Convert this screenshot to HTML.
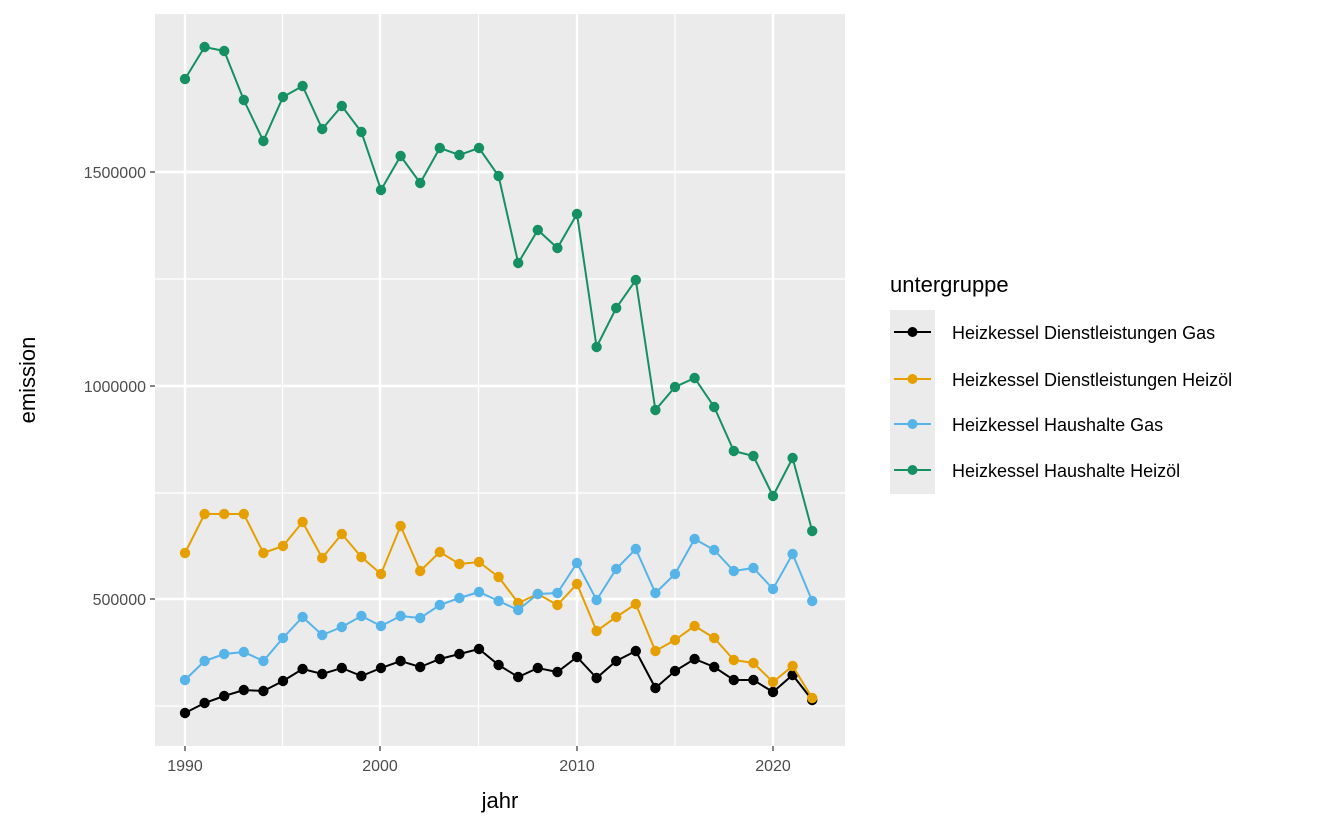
<!DOCTYPE html>
<html><head><style>body{margin:0;background:#fff}</style></head><body>
<svg width="1344" height="830" xmlns="http://www.w3.org/2000/svg" font-family="Liberation Sans, Arial, sans-serif">
<rect x="155" y="14" width="690" height="732" fill="#ebebeb"/>
<g stroke="#fff" stroke-width="1.2">
<line x1="155" x2="845" y1="279" y2="279"/><line x1="155" x2="845" y1="493" y2="493"/><line x1="155" x2="845" y1="706" y2="706"/>
<line x1="282.5" x2="282.5" y1="14" y2="746"/><line x1="478.5" x2="478.5" y1="14" y2="746"/><line x1="675" x2="675" y1="14" y2="746"/>
</g>
<g stroke="#fff" stroke-width="2.4">
<line x1="155" x2="845" y1="172" y2="172"/><line x1="155" x2="845" y1="386" y2="386"/><line x1="155" x2="845" y1="599" y2="599"/>
<line x1="185" x2="185" y1="14" y2="746"/><line x1="380" x2="380" y1="14" y2="746"/><line x1="577" x2="577" y1="14" y2="746"/><line x1="773" x2="773" y1="14" y2="746"/>
</g>
<g stroke="#333" stroke-width="1.2">
<line x1="150" x2="155" y1="172" y2="172"/><line x1="150" x2="155" y1="386" y2="386"/><line x1="150" x2="155" y1="599" y2="599"/>
<line x1="185" x2="185" y1="746" y2="751"/><line x1="380" x2="380" y1="746" y2="751"/><line x1="577" x2="577" y1="746" y2="751"/><line x1="773" x2="773" y1="746" y2="751"/>
</g>
<g fill="#4d4d4d" font-size="16" text-anchor="end">
<text x="146" y="178">1500000</text><text x="146" y="392">1000000</text><text x="146" y="605">500000</text>
</g>
<g fill="#4d4d4d" font-size="16" text-anchor="middle">
<text x="185" y="771">1990</text><text x="380" y="771">2000</text><text x="577" y="771">2010</text><text x="773" y="771">2020</text>
</g>
<text x="500" y="808" font-size="22" text-anchor="middle">jahr</text>
<text transform="translate(35,380) rotate(-90)" font-size="22" text-anchor="middle">emission</text>
<g id="series"></g>
<text x="890" y="292" font-size="22">untergruppe</text>
<rect x="890" y="310" width="45" height="184" fill="#ebebeb"/>
<g font-size="18">
<line x1="894" x2="931" y1="332" y2="332" stroke="#000" stroke-width="2"/><circle cx="912.5" cy="332" r="5" fill="#000"/><text x="952" y="339">Heizkessel Dienstleistungen Gas</text>
<line x1="894" x2="931" y1="379" y2="379" stroke="#E69F00" stroke-width="2"/><circle cx="912.5" cy="379" r="5" fill="#E69F00"/><text x="952" y="386">Heizkessel Dienstleistungen Heizöl</text>
<line x1="894" x2="931" y1="424" y2="424" stroke="#56B4E9" stroke-width="2"/><circle cx="912.5" cy="424" r="5" fill="#56B4E9"/><text x="952" y="431">Heizkessel Haushalte Gas</text>
<line x1="894" x2="931" y1="470" y2="470" stroke="#159062" stroke-width="2"/><circle cx="912.5" cy="470" r="5" fill="#159062"/><text x="952" y="477">Heizkessel Haushalte Heizöl</text>
</g>
</svg>
<script>
var S=[["#000",[713,703,696,690,691,681,669,674,668,676,668,661,667,659,654,649,665,677,668,672,657,678,661,651,688,671,659,667,680,680,692,675,700]],
["#E69F00",[553,514,514,514,553,546,522,558,534,557,574,526,571,552,564,562,577,603,594,605,584,631,617,604,651,640,626,638,660,663,682,666,698]],
["#56B4E9",[680,661,654,652,661,638,617,635,627,616,626,616,618,605,598,592,601,610,594,593,563,600,569,549,593,574,539,550,571,568,589,554,601]],
["#159062",[79,47,51,100,141,97,86,129,106,132,190,156,183,148,155,148,176,263,230,248,214,347,308,280,410,387,378,407,451,456,496,458,531]]];
var g=document.getElementById("series"),ns="http://www.w3.org/2000/svg";
S.forEach(function(s){var pts=s[1].map(function(y,i){return [185+i*19.6,y]});
var p=document.createElementNS(ns,"polyline");p.setAttribute("points",pts.map(function(a){return a.join(",")}).join(" "));
p.setAttribute("fill","none");p.setAttribute("stroke",s[0]);p.setAttribute("stroke-width","2");g.appendChild(p);
pts.forEach(function(a){var c=document.createElementNS(ns,"circle");c.setAttribute("cx",a[0]);c.setAttribute("cy",a[1]);c.setAttribute("r","5.2");c.setAttribute("fill",s[0]);g.appendChild(c);});});
</script>
</body></html>
